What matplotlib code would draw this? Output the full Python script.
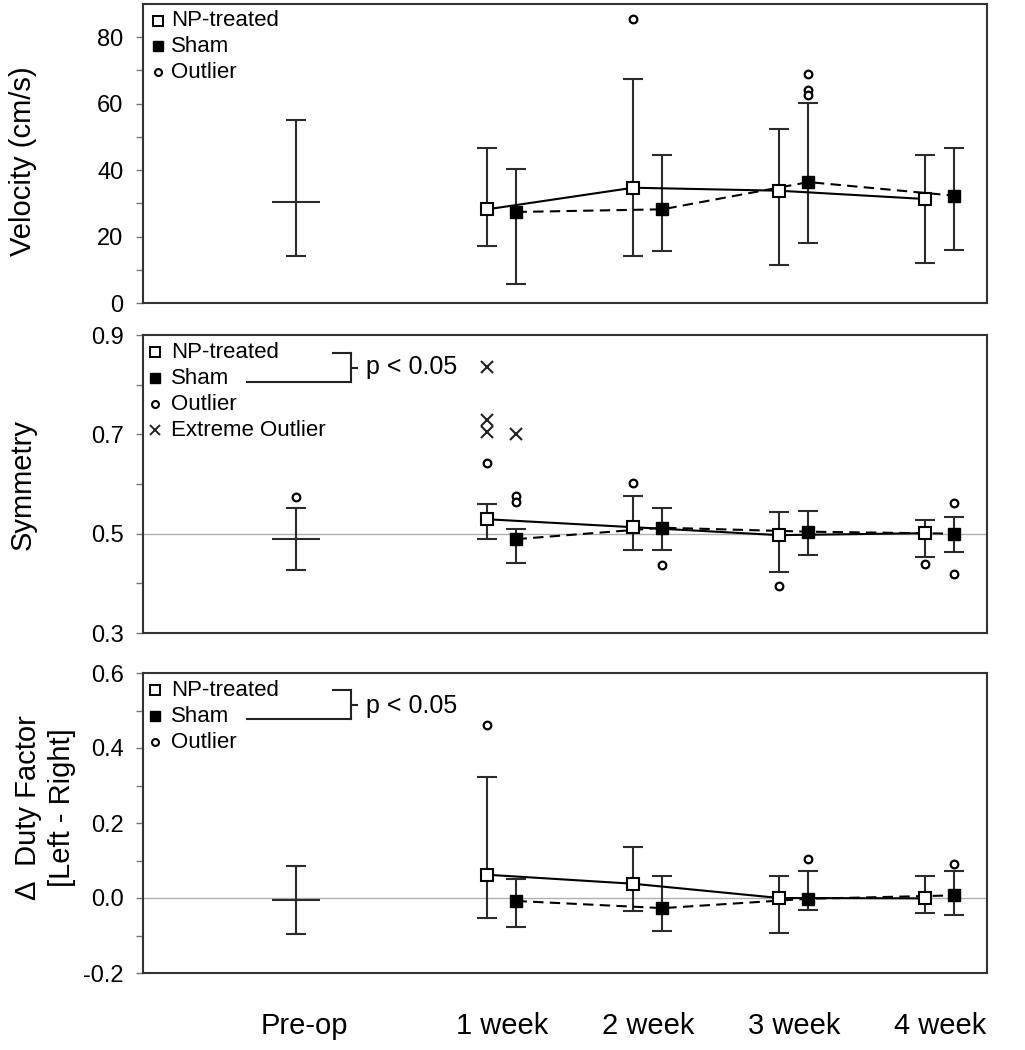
import matplotlib
matplotlib.use('Agg')
import matplotlib.pyplot as plt
from matplotlib.lines import Line2D

plt.rcParams['font.family'] = ['Liberation Sans', 'DejaVu Sans']

# ---- data ----
xlabels = ['Pre-op', '1 week', '2 week', '3 week', '4 week']

# velocity (cm/s): pre-op = mean, low whisker, high whisker
vel_pre = [30.4, 14.2, 55.2]
vel_np_mean = [28.2, 34.7, 33.8, 31.3]
vel_np_low = [17.2, 14.2, 11.4, 11.9]
vel_np_high = [46.8, 67.3, 52.4, 44.4]
vel_sham_mean = [27.4, 28.2, 36.4, 32.3]
vel_sham_low = [5.6, 15.6, 18.1, 15.9]
vel_sham_high = [40.4, 44.6, 60.2, 46.8]
vel_np_out = {1: [85.4]}
vel_sham_out = {2: [68.9, 64.1, 62.6]}

# symmetry
sym_pre = [0.490, 0.426, 0.552]
sym_pre_out = [0.573]
sym_np_mean = [0.529, 0.513, 0.497, 0.501]
sym_np_low = [0.489, 0.467, 0.422, 0.454]
sym_np_high = [0.560, 0.576, 0.544, 0.528]
sym_sham_mean = [0.489, 0.512, 0.504, 0.500]
sym_sham_low = [0.440, 0.468, 0.458, 0.463]
sym_sham_high = [0.509, 0.551, 0.546, 0.533]
sym_np_out = {0: [0.642], 1: [0.603], 2: [0.395], 3: [0.439]}
sym_sham_out = {0: [0.575, 0.563], 1: [0.437], 3: [0.562, 0.419]}
sym_np_ext = {0: [0.836, 0.729, 0.705]}
sym_sham_ext = {0: [0.701]}

# delta duty factor [left - right]
duty_pre = [-0.005, -0.097, 0.085]
duty_np_mean = [0.062, 0.038, 0.000, -0.001]
duty_np_low = [-0.054, -0.035, -0.094, -0.039]
duty_np_high = [0.322, 0.136, 0.058, 0.058]
duty_sham_mean = [-0.008, -0.027, -0.002, 0.007]
duty_sham_low = [-0.078, -0.088, -0.032, -0.046]
duty_sham_high = [0.051, 0.060, 0.073, 0.073]
duty_np_out = {0: [0.461]}
duty_sham_out = {2: [0.104], 3: [0.091]}

# ---- layout ----
W, H = 1025, 1050
fig = plt.figure(figsize=(W / 100, H / 100), dpi=100)

x_pre = 0.0
x_np = [1.31, 2.31, 3.31, 4.31]
x_sham = [x + 0.2 for x in x_np]
tick_x = [0.06] + [x + 0.1 for x in x_np]

ecol = '#2b2b2b'


def fx(x):
    return x / W


def fy(y):
    return 1 - y / H


def draw_panel(ax, pre, np_m, np_lo, np_hi, sh_m, sh_lo, sh_hi,
               np_out, sh_out, np_ext=None, sh_ext=None, pre_out=None):
    ax.errorbar([x_pre], [pre[0]], yerr=[[pre[0] - pre[1]], [pre[2] - pre[0]]],
                fmt='_', ms=35, mew=1.5, color=ecol, ecolor=ecol,
                elinewidth=1.5, capsize=7, capthick=1.5, zorder=3)
    ax.errorbar(x_np, np_m,
                yerr=[[m - lo for m, lo in zip(np_m, np_lo)],
                      [hi - m for m, hi in zip(np_m, np_hi)]],
                fmt='none', ecolor=ecol, elinewidth=1.5, capsize=7,
                capthick=1.5, zorder=3)
    ax.errorbar(x_sham, sh_m,
                yerr=[[m - lo for m, lo in zip(sh_m, sh_lo)],
                      [hi - m for m, hi in zip(sh_m, sh_hi)]],
                fmt='none', ecolor=ecol, elinewidth=1.5, capsize=7,
                capthick=1.5, zorder=3)
    ax.plot(x_np, np_m, '-', color='black', lw=1.5, zorder=4)
    ax.plot(x_sham, sh_m, '--', color='black', lw=1.5, dashes=(5, 3), zorder=4)
    ax.plot(x_np, np_m, 's', ms=8, mfc='white', mec='black', mew=1.5,
            zorder=5, ls='none')
    ax.plot(x_sham, sh_m, 's', ms=8.5, mfc='black', mec='black',
            zorder=5, ls='none')

    def pts(d, xs):
        px, py = [], []
        for k, vals in d.items():
            for v in vals:
                px.append(xs[k])
                py.append(v)
        return px, py

    for d, xs in [(np_out, x_np), (sh_out, x_sham)]:
        px, py = pts(d, xs)
        ax.plot(px, py, 'o', ms=5.5, mfc='white', mec='black', mew=1.6,
                ls='none', zorder=5, clip_on=False)
    if pre_out:
        ax.plot([x_pre] * len(pre_out), pre_out, 'o', ms=5.5, mfc='white',
                mec='black', mew=1.6, ls='none', zorder=5)
    for d, xs in [(np_ext or {}, x_np), (sh_ext or {}, x_sham)]:
        px, py = pts(d, xs)
        ax.plot(px, py, 'x', ms=8, color='#222222', mew=1.5,
                ls='none', zorder=5)

    ax.set_xlim(-1.048, 4.733)
    for sp in ax.spines.values():
        sp.set_color('#333333')
        sp.set_linewidth(1.5)
    ax.tick_params(axis='y', which='both', direction='out', length=5,
                   width=1, color='#777777', labelsize=17, pad=9)
    ax.tick_params(axis='x', length=0)


def legend(entries, mx, tx):
    for kind, label, y in entries:
        if kind == 'np':
            fig.add_artist(Line2D([fx(mx)], [fy(y)], marker='s', ms=7,
                                  mfc='white', mec='black', mew=1.4,
                                  transform=fig.transFigure))
        elif kind == 'sham':
            fig.add_artist(Line2D([fx(mx)], [fy(y)], marker='s', ms=7.5,
                                  mfc='black', mec='black',
                                  transform=fig.transFigure))
        elif kind == 'out':
            fig.add_artist(Line2D([fx(mx)], [fy(y)], marker='o', ms=5,
                                  mfc='white', mec='black', mew=1.5,
                                  transform=fig.transFigure))
        else:
            fig.add_artist(Line2D([fx(mx)], [fy(y)], marker='x', ms=7.5,
                                  color='#222222', mew=1.4,
                                  transform=fig.transFigure))
        fig.text(fx(tx), fy(y), label, fontsize=16, ha='left', va='center')


def bracket(y_np, y_sham, y_txt):
    x0, x1, xs = 333, 351, 247
    ym = (y_np + y_sham) / 2
    segs = [([x0, x1], [y_np, y_np]), ([x1, x1], [y_np, y_sham]),
            ([xs, x1], [y_sham, y_sham]), ([x1, x1 + 6], [ym, ym])]
    for xx, yy in segs:
        fig.add_artist(Line2D([fx(v) for v in xx], [fy(v) for v in yy],
                              color='#222222', lw=1.5,
                              transform=fig.transFigure))
    fig.text(fx(366), fy(y_txt), 'p < 0.05', fontsize=18, ha='left',
             va='center')


left, width = 143 / W, 844 / W
ax1 = fig.add_axes([left, 1 - 303 / H, width, 299 / H])
ax2 = fig.add_axes([left, 1 - 633 / H, width, 298 / H])
ax3 = fig.add_axes([left, 1 - 973 / H, width, 300 / H])

# --- velocity ---
draw_panel(ax1, vel_pre, vel_np_mean, vel_np_low, vel_np_high,
           vel_sham_mean, vel_sham_low, vel_sham_high,
           vel_np_out, vel_sham_out)
ax1.set_ylim(0, 90)
ax1.set_yticks([0, 20, 40, 60, 80])
ax1.set_yticks([10, 30, 50, 70], minor=True)
ax1.set_xticks([])
ax1.set_ylabel('Velocity (cm/s)', fontsize=21, va='center')
ax1.yaxis.set_label_coords(-0.142, 0.475)
legend([('np', 'NP-treated', 21), ('sham', 'Sham', 46), ('out', 'Outlier', 72)],
       158, 171)

# --- symmetry ---
ax2.axhline(0.5, color='#b0b0b0', lw=1, zorder=1)
draw_panel(ax2, sym_pre, sym_np_mean, sym_np_low, sym_np_high,
           sym_sham_mean, sym_sham_low, sym_sham_high,
           sym_np_out, sym_sham_out, sym_np_ext, sym_sham_ext, sym_pre_out)
ax2.set_ylim(0.3, 0.9)
ax2.set_yticks([0.3, 0.5, 0.7, 0.9])
ax2.set_yticks([0.4, 0.6, 0.8], minor=True)
ax2.set_yticklabels(['0.3', '0.5', '0.7', '0.9'])
ax2.set_xticks([])
ax2.set_ylabel('Symmetry', fontsize=21, va='center')
ax2.yaxis.set_label_coords(-0.142, 0.497)
legend([('np', 'NP-treated', 352), ('sham', 'Sham', 378),
        ('out', 'Outlier', 404), ('ext', 'Extreme Outlier', 430)], 155, 171)
bracket(353, 382, 367)

# --- delta duty factor ---
ax3.axhline(0.0, color='#b0b0b0', lw=1, zorder=1)
draw_panel(ax3, duty_pre, duty_np_mean, duty_np_low, duty_np_high,
           duty_sham_mean, duty_sham_low, duty_sham_high,
           duty_np_out, duty_sham_out)
ax3.set_ylim(-0.2, 0.6)
ax3.set_yticks([-0.2, 0.0, 0.2, 0.4, 0.6])
ax3.set_yticklabels(['-0.2', '0.0', '0.2', '0.4', '0.6'])
ax3.set_yticks([-0.1, 0.1, 0.3, 0.5], minor=True)
ax3.set_xticks(tick_x)
ax3.set_xticklabels(xlabels, fontsize=21)
ax3.tick_params(axis='x', length=0, pad=28)
ax3.set_ylabel('\u0394  Duty Factor\n[Left - Right]', fontsize=21,
               va='center', linespacing=1.3)
ax3.yaxis.set_label_coords(-0.116, 0.55)
legend([('np', 'NP-treated', 690), ('sham', 'Sham', 716),
        ('out', 'Outlier', 742)], 155, 171)
bracket(690, 719, 706)

fig.savefig('out.png', dpi=100)
